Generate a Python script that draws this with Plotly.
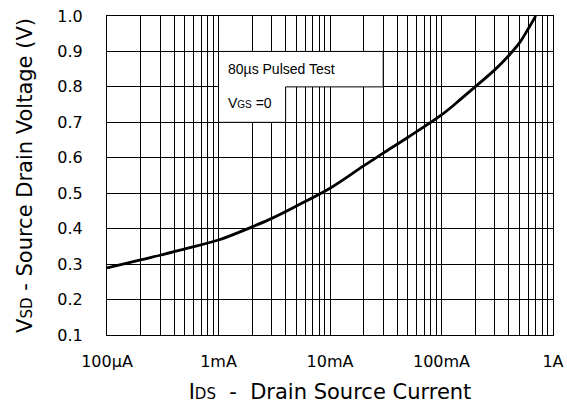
import plotly.graph_objects as go
import numpy as np

# Data
current_a = [1e-4, 2e-4, 3e-4, 5e-4, 1e-3, 2e-3, 3e-3, 5e-3, 1e-2, 2e-2, 3e-2, 5e-2,
             1e-1, 1.47e-1, 2e-1, 3e-1, 4e-1, 5e-1, 6e-1, 7e-1]
vsd_v = [0.289, 0.312, 0.325, 0.343, 0.368, 0.405, 0.429, 0.464, 0.514, 0.577, 0.613, 0.658,
         0.721, 0.764, 0.800, 0.848, 0.888, 0.924, 0.964, 1.000]

decades = [1e-4, 1e-3, 1e-2, 1e-1, 1.0]
decade_labels = ["100µA", "1mA", "10mA", "100mA", "1A"]
y_ticks = [0.1, 0.2, 0.3, 0.4, 0.5, 0.6, 0.7, 0.8, 0.9, 1.0]

# grid positions (every 1..9 per decade)
tickvals, ticktext = [], []
for d, lab in zip(decades, decade_labels):
    if d >= 1.0:
        tickvals.append(d); ticktext.append(lab)
        break
    for m in range(1, 10):
        tickvals.append(d * m)
        ticktext.append(lab if m == 1 else "")

BIG = "DejaVu Sans"
SMALL = "Liberation Sans, Arial"

fig = go.Figure()
fig.add_trace(go.Scatter(x=current_a, y=vsd_v, mode="lines",
                         line=dict(color="black", width=2.8, shape="spline", smoothing=1.0),
                         showlegend=False, hoverinfo="skip"))

# white note boxes (L-shape)
box_fill = dict(type="rect", xref="x", yref="y", fillcolor="white", line=dict(width=0), layer="between")
fig.add_shape(**box_fill, x0=1e-3, x1=3e-2, y0=0.8, y1=0.9)
fig.add_shape(**box_fill, x0=1e-3, x1=4e-3, y0=0.7, y1=0.8)
edge = dict(type="line", xref="x", yref="y", line=dict(color="black", width=1), layer="between")
fig.add_shape(**edge, x0=1e-3, x1=3e-2, y0=0.9, y1=0.9)
fig.add_shape(**edge, x0=4e-3, x1=3e-2, y0=0.8, y1=0.8)
fig.add_shape(**edge, x0=3e-2, x1=3e-2, y0=0.8, y1=0.9)
fig.add_shape(**edge, x0=1e-3, x1=1e-3, y0=0.7, y1=0.9)
fig.add_shape(**edge, x0=1e-3, x1=4e-3, y0=0.7, y1=0.7)
fig.add_shape(**edge, x0=4e-3, x1=4e-3, y0=0.7, y1=0.8)

fig.add_annotation(x=np.log10(1e-3), y=0.85, xref="x", yref="y", xanchor="left", yanchor="middle",
                   xshift=7, showarrow=False, text="80µs Pulsed Test",
                   font=dict(family=SMALL, size=14, color="black"))
fig.add_annotation(x=np.log10(1e-3), y=0.755, xref="x", yref="y", xanchor="left", yanchor="middle",
                   xshift=7, showarrow=False,
                   text="V<span style='font-size:10px'>GS</span> =0",
                   font=dict(family=SMALL, size=14, color="black"))

fig.update_xaxes(type="log", range=[-4, 0], tickmode="array", tickvals=tickvals, ticktext=ticktext,
                 showgrid=True, gridcolor="black", gridwidth=1, zeroline=False,
                 showline=True, linecolor="black", linewidth=1, mirror=True,
                 ticks="", ticklabelstandoff=12, automargin=False,
                 tickfont=dict(family=BIG, size=16, color="black"),
                 title=dict(text="I<span style='font-size:15px'>DS</span>  -  Drain Source Current",
                            font=dict(family=BIG, size=21, color="black"), standoff=14))
fig.update_yaxes(range=[0.1, 1.0], tickmode="array", tickvals=y_ticks,
                 ticktext=[f"{v:.1f}" for v in y_ticks],
                 showgrid=True, gridcolor="black", gridwidth=1, zeroline=False,
                 showline=True, linecolor="black", linewidth=1, mirror=True,
                 ticks="", ticklabelstandoff=20, automargin=False,
                 tickfont=dict(family=BIG, size=16, color="black"),
                 title=dict(text="V<span style='font-size:15px'>SD</span> - Source Drain Voltage (V)",
                            font=dict(family=BIG, size=21, color="black"), standoff=18))
fig.update_layout(width=567, height=405, margin=dict(l=107, r=14, t=16, b=70, autoexpand=False),
                  paper_bgcolor="white", plot_bgcolor="white")
fig.write_html("out.html")
